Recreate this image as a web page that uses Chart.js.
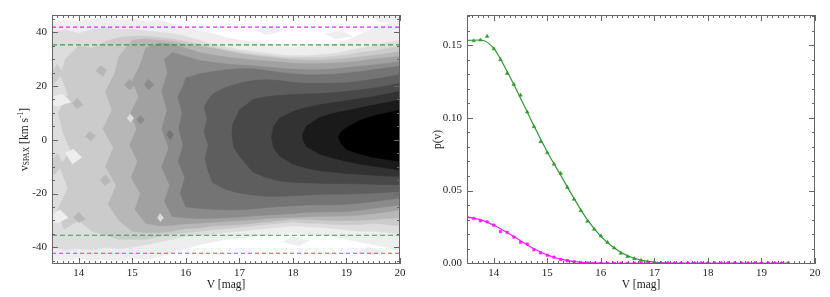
<!DOCTYPE html>
<html>
<head>
<meta charset="utf-8">
<script src="https://cdn.jsdelivr.net/npm/chart.js@4.4.1/dist/chart.umd.min.js"></script>
<style>
  html, body { margin: 0; padding: 0; background: #fff; }
  #wrap { position: relative; width: 830px; height: 297px; }
  .panel { position: absolute; top: 0; width: 415px; height: 297px; }
</style>
</head>
<body>
<div id="wrap">
  <div class="panel" style="left:0"><canvas id="contour" width="415" height="297"></canvas></div>
  <div class="panel" style="left:415px"><canvas id="prob" width="415" height="297"></canvas></div>
</div>
<script>
const _ = null;

// ---- left panel: filled contours of v_SPAX against V ----
// boundaries of each grey level (lightest first), sampled on GRID
const GRID = [13.5,13.75,14,14.25,14.5,14.75,15,15.25,15.5,15.75,16,16.25,16.5,16.75,17,17.25,17.5,17.75,18,18.25,18.5,18.75,19,19.25,19.5,19.75,20];

const CONTOUR_UP = [
  [44,44.5,44,45,45.5,44.5,45,44,44.5,43,42,40.5,39.5,38,37,36.5,36,35,34.5,34.8,35.5,35.5,37,39,41.5,43,44],
  [40,41,39.5,41,41.5,41,41,40.5,40,39.5,38.5,37,35.5,34.5,33.5,32.8,32.3,31.6,31.2,31.2,31.6,32,33,34,35,36,37],
  [_,30,35,34,36.5,38,38.5,38.5,38,37.5,36.5,35.5,34.5,33.5,32.6,31.8,31.3,30.8,30.5,30.5,30.5,31,31.5,32.5,33,34,34.7],
  [_,_,_,_,_,31,37,37.5,37,36.5,35.5,34.8,34,33,32,31.3,30.8,30.2,29.8,29.6,29.5,29.8,30.2,30.8,31.3,32,32.8],
  [_,_,_,_,_,_,_,34,36,35.5,34,32.5,31.5,30.8,30.2,29.7,29.3,28.9,28.5,28.3,28.3,28.5,28.8,29.3,30,30.5,31],
  [_,_,_,_,_,_,_,_,_,32.5,31,29.5,28.8,28.2,27.8,27.5,27,26.6,26.2,26,26,26.3,26.8,27.3,27.8,28.4,29],
  [_,_,_,_,_,_,_,_,_,_,23,24.5,25.3,26,26.4,26.4,25.8,25,24.5,24.2,24.2,24.3,24.8,25.3,26,26.7,27.3],
  [_,_,_,_,_,_,_,_,_,_,_,_,17,19.5,21,22,22.3,22,21.3,21,21,21,21.2,21.8,22.5,23.3,24.2],
  [_,_,_,_,_,_,_,_,_,_,_,_,_,_,11,15,16,16.5,16.8,17,17.2,17.5,18,18.5,19.2,20,21],
  [_,_,_,_,_,_,_,_,_,_,_,_,_,_,_,_,_,8,10.5,12,13,13.8,14.5,15.3,16,17,18],
  [_,_,_,_,_,_,_,_,_,_,_,_,_,_,_,_,_,_,_,5,8.3,9.8,10.8,11.8,12.8,13.8,14.8],
  [_,_,_,_,_,_,_,_,_,_,_,_,_,_,_,_,_,_,_,_,_,_,4.5,7.2,8.8,10,11]
];

const CONTOUR_LO = [
  [-44.5,-45,-44,-45,-44.5,-45,-44,-44.5,-43.5,-42,-40.5,-39,-38,-37,-36.5,-36,-35.5,-35,-34.5,-35,-35.5,-36,-37,-38,-39,-40,-41],
  [-40,-41,-40.5,-41,-40,-40.5,-40,-39,-38,-37,-36,-35.5,-35,-34.5,-34,-33.5,-33,-32.5,-32,-32.3,-32.5,-33,-33.5,-34,-34,-34.5,-35],
  [_,-33,-30,-34,-35.5,-37,-37,-37,-36,-35,-34.5,-34,-33.5,-33,-32.5,-32,-31.5,-31,-30.5,-31,-31,-31.5,-31.5,-31.5,-31,-31.5,-32],
  [_,_,_,_,_,-30,-34,-34.5,-34.5,-34,-33,-32.8,-32,-31.8,-31.5,-31,-30.5,-30,-29.5,-29.6,-29.8,-30,-30,-29.9,-29.7,-29.3,-29],
  [_,_,_,_,_,_,_,-31,-32,-31.8,-31.2,-31,-30.7,-30.3,-30,-29.7,-29.3,-29,-28.8,-28.6,-28.4,-28.4,-28.3,-28,-27.5,-26.8,-26],
  [_,_,_,_,_,_,_,_,_,-28.5,-29,-29.3,-29.2,-29,-28.7,-28.3,-28,-27.7,-27.4,-27,-26.8,-26.8,-26.7,-26.2,-25.5,-24.8,-24.2],
  [_,_,_,_,_,_,_,_,_,_,-25,-25.5,-25.8,-26,-26,-25.7,-25.2,-24.8,-24.5,-24.3,-24.2,-24.2,-24,-23.5,-23,-22.3,-21.7],
  [_,_,_,_,_,_,_,_,_,_,_,_,-16,-18.5,-19.8,-20.5,-21,-21,-20.8,-20.5,-20.3,-20.2,-20.2,-20,-19.8,-19.5,-19.2],
  [_,_,_,_,_,_,_,_,_,_,_,_,_,_,-6,-12,-14,-15.3,-15.8,-16,-16.2,-16.3,-16.3,-16.4,-16.5,-16.6,-16.7],
  [_,_,_,_,_,_,_,_,_,_,_,_,_,_,_,_,_,-6,-9,-10.5,-11.5,-12,-12.5,-12.8,-13.2,-13.5,-13.6],
  [_,_,_,_,_,_,_,_,_,_,_,_,_,_,_,_,_,_,_,-2.5,-5.3,-6.8,-8,-9,-9.8,-10.5,-11.2],
  [_,_,_,_,_,_,_,_,_,_,_,_,_,_,_,_,_,_,_,_,_,_,-3.5,-5.3,-6.5,-7.3,-8]
];

// ragged left edge of each level, bottom to top
const CONTOUR_EDGE = [
  [],
  [],
  [[13.72,-33],[13.6,-26],[13.8,-18],[13.64,-10],[13.85,-4],[13.7,3],[13.62,10],[13.8,17],[13.66,24],[13.75,30]],
  [[14.75,-30],[14.55,-24],[14.7,-17],[14.5,-10],[14.65,-3],[14.45,4],[14.62,11],[14.5,18],[14.68,25],[14.75,31]],
  [[15.25,-31],[15.05,-26],[15.15,-20],[14.98,-14],[15.1,-8],[14.95,-2],[15.08,4],[14.97,10],[15.12,16],[15.0,22],[15.15,28],[15.25,34]],
  [[15.75,-28.5],[15.6,-23],[15.7,-17],[15.55,-10],[15.68,-3],[15.55,4],[15.65,11],[15.55,18],[15.66,25],[15.6,30],[15.75,32.5]],
  [[16.0,-25],[15.9,-20],[15.98,-14],[15.86,-8],[15.95,-2],[15.87,4],[15.93,10],[15.85,16],[15.95,20],[16.0,23]],
  [[16.5,-16],[16.42,-12],[16.36,-7],[16.42,-2],[16.34,3],[16.4,8],[16.34,12],[16.42,15],[16.5,17]],
  [[17.0,-6],[16.9,-3],[16.86,2],[16.88,6],[17.0,11]],
  [[17.75,-6],[17.64,-3],[17.6,1],[17.64,5],[17.75,8]],
  [[18.25,-2.5],[18.19,0],[18.18,2],[18.25,5]],
  [[19.0,-3.5],[18.9,-1.5],[18.85,1],[18.9,3],[19.0,4.5]]
];

// isolated islands: [level, outline]
const PATCHES = [
  [4, [[14.32,25.5],[14.4,27.5],[14.52,26],[14.45,23.5]]],
  [4, [[13.88,13.5],[13.97,15.5],[14.08,13],[13.96,11.5]]],
  [4, [[14.12,1.2],[14.2,3],[14.32,1.5],[14.22,-0.5]]],
  [4, [[14.4,-15],[14.5,-13],[14.6,-15.5],[14.48,-17]]],
  [4, [[13.9,-29],[14.0,-27],[14.12,-29.5],[14.0,-30.8]]],
  [5, [[14.85,20.5],[14.95,22.5],[15.05,20.5],[14.95,18.5]]],
  [6, [[15.22,20.5],[15.3,22.5],[15.4,20.5],[15.3,18.5]]],
  [6, [[15.08,7.4],[15.15,9],[15.23,7.4],[15.15,5.8]]],
  [7, [[15.64,1.9],[15.7,3.5],[15.77,1.9],[15.7,0]]],
  [2, [[14.9,8],[14.96,9.5],[15.03,8],[14.96,6.5]]],
  [2, [[15.47,-29],[15.52,-27.5],[15.58,-29],[15.52,-30.5]]],
  [1, [[13.75,-5],[13.9,-3.5],[14.05,-6.5],[13.88,-9]]],
  [1, [[13.5,16],[13.7,17],[13.85,14],[13.6,12.5],[13.5,13]]],
  [1, [[13.5,-28],[13.65,-26],[13.8,-29],[13.6,-31],[13.5,-30.5]]],
  [3, [[13.5,-8],[13.6,-5],[13.7,-9],[13.55,-13],[13.5,-12]]],
  [3, [[13.5,25],[13.6,28],[13.7,25],[13.55,21],[13.5,21]]],
  [1, [[19.45,46.5],[19.6,44],[19.9,43.5],[20,44],[20,46.5]]],
  [1, [[17.3,41],[17.5,39],[17.8,40.5],[17.6,42.5]]],
  [1, [[18.6,39.5],[18.8,37.5],[19.1,38.5],[18.9,40.5]]],
  [1, [[17.8,-38],[18.0,-36],[18.3,-37.5],[18.1,-39.5]]],
  [1, [[19.2,-42],[19.4,-40],[19.7,-41.5],[19.5,-43]]]
];

const LIMIT_MAGENTA = [41.9, -42.2];
const LIMIT_GREEN = [35.3, -35.5];

// ---- right panel: p(v) against V ----
const BINS = [13.5,13.625,13.75,13.875,14,14.125,14.25,14.375,14.5,14.625,14.75,14.875,15,15.125,15.25,15.375,15.5,15.625,15.75,15.875,16,16.125,16.25,16.375,16.5,16.625,16.75,16.875,17,17.125,17.25,17.375,17.5,17.625,17.75,17.875,18,18.125,18.25,18.375,18.5,18.625,18.75,18.875,19,19.125,19.25,19.375,19.5];
const P_GREEN = [_,0.153,0.1535,0.156,0.1475,0.140,0.1305,0.123,0.1156,0.104,0.0939,0.0836,0.076,0.0682,0.0618,0.0522,0.044,0.0362,0.0289,0.0234,0.0188,0.0144,0.0105,0.0069,0.0046,0.0032,0.002,0.001,0.0005,0.0002,0.0001,0,0,0,0,0,0,0,0,0,0,0,0,0,0,0,0,0,0];
const P_MAGENTA = [0.0316,0.0308,0.0292,0.0285,0.0262,0.0218,0.0212,0.018,0.0145,0.0132,0.0093,0.0072,0.0055,0.0042,0.0026,0.0017,0.001,0.0004,0.0002,0,0,0,0,0,0,0,0,0,0,0,0,0,0,0,0,0,0,0,0,0,0,0,0,0,0,0,0,0,0];

const FIT_V = [13.5,13.75,14,14.25,14.5,14.75,15,15.25,15.5,15.75,16,16.25,16.5,16.75,17,17.25,17.5,17.75,18,18.25,18.5,18.75,19,19.25,19.5];
const FIT_GREEN = [0.1532,0.1535,0.1478,0.1318,0.1135,0.0945,0.0765,0.0605,0.0445,0.0298,0.0185,0.0105,0.0052,0.0022,0.0008,0.0002,0,0,0,0,0,0,0,0,0];
const FIT_MAGENTA = [0.0318,0.03,0.0262,0.0212,0.0155,0.01,0.0057,0.0028,0.0011,0.0004,0.0001,0,0,0,0,0,0,0,0,0,0,0,0,0,0];

// ---- styling ----
const GRAYS = ['#ffffff','#eeeeee','#dddddd','#cbcbcb','#b7b7b7','#a1a1a1','#8b8b8b','#747474','#5e5e5e','#484848','#323232','#1a1a1a','#000000'];
const GREEN = '#2f9a2f';
const MAGENTA = '#ff1aff';
const SERIF = "'Liberation Serif', 'DejaVu Serif', serif";
const FRAME = '#666';

Chart.defaults.font.family = SERIF;
Chart.defaults.font.size = 11;
Chart.defaults.color = '#222';

function polySet(pts, color, order) {
  return {
    data: pts, backgroundColor: color, borderColor: color, borderWidth: 0.6,
    pointRadius: 0, tension: 0, fill: 'shape', order: order
  };
}

function limitSet(v, color, dash) {
  return {
    data: [{x: 13.5, y: v}, {x: 20, y: v}], borderColor: color, borderWidth: 1.2,
    borderDash: dash, pointRadius: 0, fill: false, order: 0
  };
}

// inward ticks on all four sides plus the box
const framePlugin = {
  id: 'frame',
  afterDatasetsDraw(chart, args, o) {
    const {ctx, chartArea: a, scales: {x, y}} = chart;
    ctx.save();
    ctx.strokeStyle = FRAME;
    ctx.lineWidth = 1;
    ctx.strokeRect(a.left + 0.5, a.top + 0.5, a.right - a.left - 1, a.bottom - a.top - 1);
    ctx.beginPath();
    for (let k = Math.ceil(x.min / o.xMinor - 1e-6); k * o.xMinor <= x.max + 1e-9; k++) {
      const v = k * o.xMinor;
      const r = v / o.xMajor;
      const len = Math.abs(r - Math.round(r)) < 1e-6 ? 6 : 3;
      const px = Math.round(x.getPixelForValue(v)) + 0.5;
      ctx.moveTo(px, a.bottom); ctx.lineTo(px, a.bottom - len);
      ctx.moveTo(px, a.top); ctx.lineTo(px, a.top + len);
    }
    for (let k = Math.ceil(y.min / o.yMinor - 1e-6); k * o.yMinor <= y.max + 1e-9; k++) {
      const v = k * o.yMinor;
      const r = v / o.yMajor;
      const len = Math.abs(r - Math.round(r)) < 1e-6 ? 6 : 3;
      const py = Math.round(y.getPixelForValue(v)) + 0.5;
      ctx.moveTo(a.left, py); ctx.lineTo(a.left + len, py);
      ctx.moveTo(a.right, py); ctx.lineTo(a.right - len, py);
    }
    ctx.stroke();
    ctx.restore();
  }
};

// y title with subscript / superscript
const vTitlePlugin = {
  id: 'vtitle',
  afterDraw(chart) {
    const {ctx, chartArea: a} = chart;
    const big = '11.5px ' + SERIF, small = '7.5px ' + SERIF;
    const parts = [['v', big, 0], ['SPAX', small, 2.5], [' [km s', big, 0], ['-1', small, -4], [']', big, 0]];
    ctx.save();
    let total = 0;
    parts.forEach(p => { ctx.font = p[1]; p.push(ctx.measureText(p[0]).width); total += p[3]; });
    ctx.translate(25, (a.top + a.bottom) / 2);
    ctx.rotate(-Math.PI / 2);
    ctx.fillStyle = '#222';
    ctx.textBaseline = 'middle';
    let xx = -total / 2;
    parts.forEach(p => { ctx.font = p[1]; ctx.fillText(p[0], xx, p[2]); xx += p[3]; });
    ctx.restore();
  }
};

function xAxis() {
  return {
    type: 'linear', min: 13.5, max: 20,
    grid: {display: false, drawTicks: false}, border: {display: false},
    ticks: {stepSize: 1, includeBounds: false, padding: 3, maxRotation: 0, autoSkip: false, font: {size: 11}},
    title: {display: true, text: 'V [mag]', font: {size: 11.5}, padding: {top: 0, bottom: 5}},
    afterFit(s) { s.height = 33; }
  };
}

// left chart datasets
const leftSets = [];
LIMIT_MAGENTA.forEach(v => leftSets.push(limitSet(v, MAGENTA, [4, 3])));
LIMIT_GREEN.forEach(v => leftSets.push(limitSet(v, 'rgba(40,140,40,0.85)', [5, 3])));
CONTOUR_UP.forEach((up, k) => {
  const lo = CONTOUR_LO[k];
  const pts = [];
  GRID.forEach((gx, i) => { if (up[i] !== null) pts.push({x: gx, y: up[i]}); });
  for (let i = GRID.length - 1; i >= 0; i--) if (lo[i] !== null) pts.push({x: GRID[i], y: lo[i]});
  CONTOUR_EDGE[k].forEach(p => pts.push({x: p[0], y: p[1]}));
  leftSets.push(polySet(pts, GRAYS[k + 1], 100 - k));
});
PATCHES.forEach(([lev, outline]) => {
  leftSets.push(polySet(outline.map(p => ({x: p[0], y: p[1]})), GRAYS[lev], 50));
});

new Chart(document.getElementById('contour'), {
  type: 'line',
  data: {datasets: leftSets},
  options: {
    responsive: false, animation: false, events: [],
    layout: {padding: {left: 0, right: 15, top: 15, bottom: 0}},
    plugins: {legend: {display: false}, tooltip: {enabled: false},
      frame: {xMinor: 0.1, xMajor: 1, yMinor: 5, yMajor: 20}},
    scales: {
      x: xAxis(),
      y: {
        type: 'linear', min: -46.2, max: 46.4,
        grid: {display: false, drawTicks: false}, border: {display: false},
        ticks: {stepSize: 20, includeBounds: false, padding: 5, font: {size: 11}},
        afterFit(s) { s.width = 52; }
      }
    }
  },
  plugins: [framePlugin, vTitlePlugin]
});

// right chart
new Chart(document.getElementById('prob'), {
  type: 'line',
  data: {
    datasets: [
      {data: BINS.map((v, i) => ({x: v, y: P_MAGENTA[i]})), showLine: false,
       pointStyle: 'rect', pointRadius: 1.8, pointBackgroundColor: MAGENTA, pointBorderColor: MAGENTA, pointBorderWidth: 0.5},
      {data: BINS.map((v, i) => ({x: v, y: P_GREEN[i]})), showLine: false,
       pointStyle: 'triangle', pointRadius: 2.1, pointBackgroundColor: GREEN, pointBorderColor: GREEN, pointBorderWidth: 0.5},
      {data: FIT_V.map((v, i) => ({x: v, y: FIT_MAGENTA[i]})), borderColor: MAGENTA, borderWidth: 1.2,
       pointRadius: 0, fill: false, cubicInterpolationMode: 'monotone'},
      {data: FIT_V.map((v, i) => ({x: v, y: FIT_GREEN[i]})), borderColor: GREEN, borderWidth: 1.2,
       pointRadius: 0, fill: false, cubicInterpolationMode: 'monotone'}
    ]
  },
  options: {
    responsive: false, animation: false, events: [],
    layout: {padding: {left: 0, right: 15, top: 15, bottom: 0}},
    plugins: {legend: {display: false}, tooltip: {enabled: false},
      frame: {xMinor: 0.1, xMajor: 1, yMinor: 0.01, yMajor: 0.05}},
    scales: {
      x: xAxis(),
      y: {
        type: 'linear', min: -0.0005, max: 0.1707,
        grid: {display: false, drawTicks: false}, border: {display: false},
        ticks: {stepSize: 0.05, includeBounds: false, padding: 5, font: {size: 11},
          callback: v => v.toFixed(2)},
        title: {display: true, text: 'p(v)', font: {size: 11.5}, padding: {top: 16, bottom: 0}},
        afterFit(s) { s.width = 52; }
      }
    }
  },
  plugins: [framePlugin]
});
</script>
</body>
</html>
